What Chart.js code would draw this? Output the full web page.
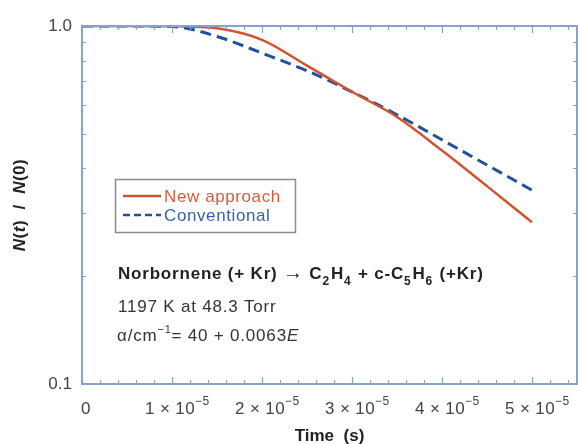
<!DOCTYPE html>
<html>
<head>
<meta charset="utf-8">
<script src="https://cdn.jsdelivr.net/npm/chart.js@4.4.0/dist/chart.umd.min.js"></script>
<style>
    html, body { margin: 0; padding: 0; background: #fff; }
    #wrap { width: 578px; height: 444px; }
</style>
</head>
<body>
<div id="wrap"><canvas id="decay-chart"></canvas></div>
<script>
// values (time in s, N(t)/N(0))
const times = [0, 0.5e-5, 1.0e-5, 1.5e-5, 2.0e-5, 2.5e-5, 3.0e-5, 3.5e-5, 4.0e-5, 4.5e-5, 5.0e-5];
const newApproach = [1.0, 1.0, 0.999, 0.985, 0.915, 0.775, 0.655, 0.557, 0.449, 0.357, 0.283];
const conventional = [1.0, 1.0, 0.997, 0.935, 0.84, 0.75, 0.655, 0.565, 0.481, 0.409, 0.348];

const xTicks = [0, 1e-5, 2e-5, 3e-5, 4e-5, 5e-5];
const xExponent = '\u22125';
const yMajor = [0.1, 1.0];
const yMinor = [0.2, 0.3, 0.4, 0.5, 0.6, 0.7, 0.8, 0.9];
const seriesNames = ['New approach', 'Conventional'];

const FONT = "'Liberation Sans', Arial, Helvetica, sans-serif";
const RED = '#d4532f';
const BLUE = '#22509e';
const AXIS = '#86a2d2';

// draws a row of text pieces with their own font and vertical offset
function drawRuns(ctx, x, y, runs, spacing) {
    ctx.letterSpacing = (spacing || 0) + 'px';
    runs.forEach(r => {
        ctx.font = r.font;
        ctx.fillText(r.text, x, y + (r.dy || 0));
        x += ctx.measureText(r.text).width + (r.gap || 0);
    });
    ctx.letterSpacing = '0px';
    return x;
}

function runsWidth(ctx, runs, spacing) {
    ctx.letterSpacing = (spacing || 0) + 'px';
    let w = 0;
    runs.forEach(r => { ctx.font = r.font; w += ctx.measureText(r.text).width + (r.gap || 0); });
    ctx.letterSpacing = '0px';
    return w;
}

const decorations = {
    id: 'decorations',
    afterDraw(chart) {
        const ctx = chart.ctx;
        const area = chart.chartArea;
        const xs = chart.scales.x;
        const ys = chart.scales.y;
        ctx.save();

        // frame
        ctx.strokeStyle = AXIS;
        ctx.lineWidth = 2;
        ctx.strokeRect(area.left, area.top, area.right - area.left, area.bottom - area.top);

        // inward ticks
        ctx.lineWidth = 1.2;
        ctx.beginPath();
        for (let i = 1; i * 0.2e-5 < xs.max; i++) {
            const v = i * 0.2e-5;
            const px = Math.round(xs.getPixelForValue(v)) + 0.5;
            const len = (i % 5 === 0) ? 7 : 4;
            ctx.moveTo(px, area.bottom); ctx.lineTo(px, area.bottom - len);
            ctx.moveTo(px, area.top); ctx.lineTo(px, area.top + len);
        }
        yMinor.forEach(v => {
            const py = Math.round(ys.getPixelForValue(v)) + 0.5;
            ctx.moveTo(area.left, py); ctx.lineTo(area.left + 4, py);
            ctx.moveTo(area.right, py); ctx.lineTo(area.right - 4, py);
        });
        ctx.stroke();

        // x tick labels with exponent, base text centred on the tick
        ctx.fillStyle = '#444';
        ctx.textBaseline = 'alphabetic';
        xTicks.forEach((v, i) => {
            const px = xs.getPixelForValue(v);
            if (i === 0) {
                drawRuns(ctx, px - 1, area.bottom + 30, [{ text: '0', font: '17px ' + FONT }]);
                return;
            }
            const base = [{ text: i + ' \u00d7 10', font: '17px ' + FONT }];
            const w = runsWidth(ctx, base, 0.4);
            drawRuns(ctx, px - w / 2 - 2, area.bottom + 30, base.concat([
                { text: xExponent, font: '12px ' + FONT, dy: -9 }
            ]), 0.4);
        });

        // axis titles
        ctx.fillStyle = '#222';
        ctx.font = 'bold 17px ' + FONT;
        ctx.textAlign = 'center';
        ctx.fillText('Time  (s)', (area.left + area.right) / 2, 441);

        ctx.save();
        ctx.translate(25, (area.top + area.bottom) / 2);
        ctx.rotate(-Math.PI / 2);
        ctx.textAlign = 'left';
        const yTitle = [
            { text: 'N', font: 'italic bold 17px ' + FONT },
            { text: '(', font: 'bold 17px ' + FONT },
            { text: 't', font: 'italic bold 17px ' + FONT },
            { text: ')  /  ', font: 'bold 17px ' + FONT },
            { text: 'N', font: 'italic bold 17px ' + FONT },
            { text: '(0)', font: 'bold 17px ' + FONT }
        ];
        drawRuns(ctx, -runsWidth(ctx, yTitle, 0.5) / 2, 0, yTitle, 0.5);
        ctx.restore();

        // legend
        ctx.textAlign = 'left';
        ctx.strokeStyle = '#8c8c8c';
        ctx.lineWidth = 1.5;
        ctx.strokeRect(115.5, 179.5, 180, 53);
        const ds = chart.data.datasets;
        [0, 1].forEach(i => {
            const y = 196 + i * 19;
            ctx.strokeStyle = ds[i].borderColor;
            ctx.lineWidth = 2.5;
            ctx.setLineDash(i === 1 ? [7, 4] : []);
            ctx.beginPath();
            ctx.moveTo(123, y); ctx.lineTo(161, y);
            ctx.stroke();
            ctx.setLineDash([]);
            ctx.fillStyle = i === 0 ? '#d85d3c' : '#3a5ea8';
            drawRuns(ctx, 164, y + 6, [{ text: seriesNames[i], font: '17px ' + FONT }], 0.6);
        });

        // reaction annotation
        ctx.fillStyle = '#222';
        const b = 'bold 17px ' + FONT;
        const bs = 'bold 12px ' + FONT;
        drawRuns(ctx, 118, 279, [
            { text: 'Norbornene (+ Kr) ', font: b },
            { text: '\u2192', font: 'bold 20px ' + FONT, dy: 0 },
            { text: ' C', font: b },
            { text: '2', font: bs, dy: 6, gap: 1 },
            { text: 'H', font: b },
            { text: '4', font: bs, dy: 6, gap: 1 },
            { text: ' + c-C', font: b },
            { text: '5', font: bs, dy: 6, gap: 1 },
            { text: 'H', font: b },
            { text: '6', font: bs, dy: 6, gap: 1 },
            { text: ' (+Kr)', font: b }
        ], 0.8);
        ctx.fillStyle = '#333';
        drawRuns(ctx, 118, 312, [{ text: '1197 K at 48.3 Torr', font: '17px ' + FONT }], 0.8);
        drawRuns(ctx, 117, 341, [
            { text: '\u03b1/cm', font: '17px ' + FONT },
            { text: '\u22121', font: '11px ' + FONT, dy: -8 },
            { text: '= 40 + 0.0063', font: '17px ' + FONT },
            { text: 'E', font: 'italic 17px ' + FONT }
        ], 0.8);

        ctx.restore();
    }
};

new Chart(document.getElementById('decay-chart'), {
    type: 'line',
    data: {
        labels: times,
        datasets: [{
            label: seriesNames[0],
            data: times.map((t, i) => ({ x: t, y: newApproach[i] })),
            borderColor: RED,
            borderWidth: 2.5,
            pointRadius: 0,
            cubicInterpolationMode: 'monotone',
            fill: false
        }, {
            label: seriesNames[1],
            data: times.map((t, i) => ({ x: t, y: conventional[i] })),
            borderColor: BLUE,
            borderWidth: 3,
            borderDash: [11, 6],
            pointRadius: 0,
            cubicInterpolationMode: 'monotone',
            fill: false
        }]
    },
    options: {
        responsive: true,
        maintainAspectRatio: false,
        animation: false,
        layout: { padding: { top: 26, right: 1, left: 0, bottom: 0 } },
        plugins: {
            legend: { display: false },
            tooltip: { enabled: false }
        },
        scales: {
            x: {
                type: 'linear',
                min: 0,
                max: 5.5e-5,
                grid: { display: false },
                border: { display: false },
                ticks: { display: false },
                afterFit: scale => { scale.height = 60; }
            },
            y: {
                type: 'logarithmic',
                min: 0.1,
                max: 1.0,
                grid: { display: false },
                border: { display: false },
                ticks: {
                    color: '#444',
                    padding: 2,
                    font: { family: FONT, size: 17 },
                    callback: v => {
                        const hit = yMajor.find(m => Math.abs(m - v) < 1e-9);
                        return hit === undefined ? '' : hit.toFixed(1);
                    }
                },
                afterFit: scale => { scale.width = 82; }
            }
        }
    },
    plugins: [decorations]
});
</script>
</body>
</html>
